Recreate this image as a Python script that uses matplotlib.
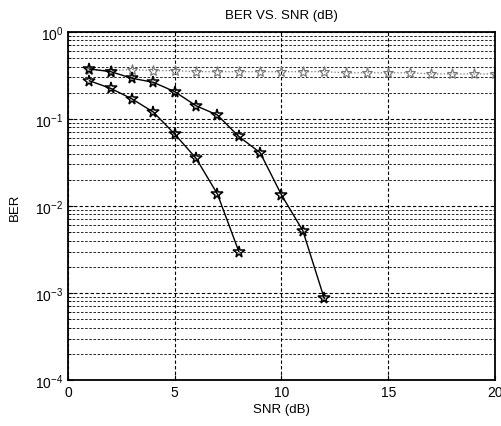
import matplotlib
matplotlib.use("Agg")
import matplotlib.pyplot as plt
from matplotlib.ticker import LogLocator, NullFormatter

plt.rcParams['font.family'] = ['Liberation Sans', 'DejaVu Sans']

# SNR points (dB) and BER readings for each curve
snr_a = [1, 2, 3, 4, 5, 6, 7, 8, 9, 10, 11, 12]
ber_a = [0.376, 0.350, 0.294, 0.264, 0.206, 0.142, 0.111, 0.063, 0.041, 0.0134, 0.0052, 0.00087]

snr_b = [1, 2, 3, 4, 5, 6, 7, 8]
ber_b = [0.275, 0.225, 0.170, 0.120, 0.067, 0.0353, 0.0137, 0.0030]

snr_c = list(range(1, 21))
ber_c = [0.37, 0.36, 0.37, 0.36, 0.36, 0.35, 0.35, 0.35, 0.35, 0.35,
         0.35, 0.35, 0.34, 0.34, 0.34, 0.34, 0.33, 0.33, 0.33, 0.33]

x_ticks = [0, 5, 10, 15, 20]
y_ticks = [1e-4, 1e-3, 1e-2, 1e-1, 1e0]

fig = plt.figure(figsize=(5.02, 4.27), dpi=100)
ax = fig.add_axes([0.1355, 0.1077, 0.8505, 0.815])

ax.semilogy(snr_c, ber_c, linestyle=':', color='#777777', linewidth=0.9,
            marker='*', markersize=8, markerfacecolor='none',
            markeredgecolor='#777777', markeredgewidth=0.8)
ax.semilogy(snr_a, ber_a, linestyle='-', color='black', linewidth=1.0,
            marker='*', markersize=8.5, markerfacecolor='none',
            markeredgecolor='black', markeredgewidth=1.1)
ax.semilogy(snr_b, ber_b, linestyle='-', color='black', linewidth=1.0,
            marker='*', markersize=8.5, markerfacecolor='none',
            markeredgecolor='black', markeredgewidth=1.1)

ax.set_xlim(0, 20)
ax.set_ylim(1e-4, 1e0)
ax.set_xticks(x_ticks)
ax.set_yticks(y_ticks)
ax.yaxis.set_minor_locator(LogLocator(base=10, subs=range(2, 10), numticks=20))
ax.yaxis.set_minor_formatter(NullFormatter())

ax.grid(True, which='major', axis='both', linestyle=(0, (3, 2)), color='black', linewidth=0.8)
ax.grid(True, which='minor', axis='y', linestyle=(0, (3, 2)), color='black', linewidth=0.6)

ax.tick_params(which='both', direction='in', labelsize=10)
ax.tick_params(which='minor', length=2)
for s in ax.spines.values():
    s.set_linewidth(1.3)

ax.set_title('BER VS. SNR (dB)', fontsize=9.5, pad=10)
ax.set_xlabel('SNR (dB)', fontsize=9.5, labelpad=3)
ax.set_ylabel('BER', fontsize=9.5, labelpad=10)

fig.savefig('out.png', dpi=100)
